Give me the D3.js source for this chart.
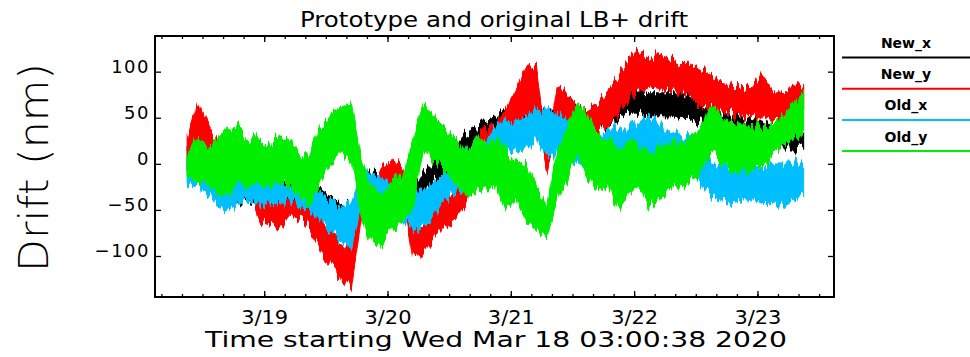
<!DOCTYPE html>
<html lang="en">
<head>
<meta charset="UTF-8">
<title>Prototype and original LB+ drift</title>
<script src="https://cdn.jsdelivr.net/npm/d3@7"></script>
<style>
    body { margin: 0; background: #fff; }
    svg text { font-family: "DejaVu Sans", sans-serif; fill: #000; }
</style>
</head>
<body>
<script>
    var sampleStart = new Date(2020, 2, 18, 9, 0);
    var sampleStepHours = 2;

    var newXHi = [19,5,0,-5,-15,-15,-15,-20,-20,-20,-20,-17,-20,-28,-35,-44,-46,-10,-10,-15,-20,-20,-21,-10,4,15,19,30,37,48,51,59,62,70,66,53,62,70,62,55,59,62,70,80,80,77,77,77,77,73,66,59,55,51,51,48,44,40,33,37,40];
    var newXLo = [-3,-20,-25,-30,-45,-40,-40,-42,-45,-45,-42,-50,-54,-56,-61,-62,-68,-40,-40,-45,-50,-50,-46,-35,-21,-10,-7,8,15,26,33,40,40,51,51,49,44,44,40,37,40,44,48,55,55,51,51,51,48,48,44,37,30,26,26,26,22,19,15,15,19];

    var newYHi = [26,66,44,20,5,-3,-7,-35,-35,-35,-39,-39,-46,-57,-75,-90,-90,-30,-30,-3,4,-3,-68,-68,-46,-35,-28,-21,20,40,40,59,80,102,106,10,84,77,59,59,66,80,95,113,124,117,117,113,109,109,102,95,91,84,84,84,98,77,77,87,84];
    var newYLo = [8,15,4,-10,-17,-20,-25,-61,-64,-72,-56,-58,-68,-90,-112,-126,-134,-55,-50,-32,-25,-32,-104,-97,-79,-68,-61,-46,-15,19,22,26,40,51,48,-5,44,40,30,30,37,40,55,70,80,84,80,80,77,73,62,59,55,55,51,51,51,48,48,59,55];

    var oldXHi = [0,-10,-10,-17,-21,-14,-10,-17,-21,-21,-21,-25,-21,-32,-39,-46,-43,-10,-10,-14,-25,-35,-25,-28,-21,-10,1,12,15,26,40,48,44,51,59,59,55,48,30,22,30,37,40,40,44,51,44,33,30,30,15,1,-3,-7,-3,1,-3,1,1,1,1];
    var oldXLo = [-20,-25,-32,-46,-50,-43,-39,-46,-43,-43,-39,-46,-50,-61,-75,-83,-90,-43,-39,-50,-55,-60,-75,-68,-57,-39,-32,-25,-17,-10,19,15,12,15,26,8,12,4,-3,-10,-3,4,1,1,4,8,4,-3,-7,-7,-21,-35,-39,-43,-39,-39,-43,-43,-46,-39,-32];

    var oldYHi = [12,33,22,30,37,39,26,26,22,30,26,12,12,40,55,62,65,0,-25,-35,-17,-10,26,66,51,40,30,12,26,26,26,15,0,-3,-25,-46,12,44,66,51,30,26,15,26,19,12,19,26,22,33,40,64,51,44,40,44,40,44,51,66,77];
    var oldYLo = [-10,-17,-20,-32,-35,-21,-25,-21,-25,-21,-25,-35,-46,-17,0,10,5,-60,-85,-86,-68,-64,-46,15,0,-3,-21,-35,-32,-25,-25,-50,-39,-61,-72,-79,-39,-17,15,-17,-28,-25,-50,-32,-25,-46,-39,-25,-25,-17,-10,15,-3,-7,-10,-7,-3,12,19,26,33];

    var seriesNames = ["New_x", "New_y", "Old_x", "Old_y"];
    var seriesColors = ["#000000", "#ff0000", "#00bfff", "#00ee00"];
    var seriesLo = [newXLo, newYLo, oldXLo, oldYLo];
    var seriesHi = [newXHi, newYHi, oldXHi, oldYHi];

    var yTickValues = [-100, -50, 0, 50, 100];
    var dayTicks = [new Date(2020, 2, 19), new Date(2020, 2, 20), new Date(2020, 2, 21), new Date(2020, 2, 22), new Date(2020, 2, 23)];

    var w = 970, h = 357;
    var plotL = 155, plotR = 834, plotT = 36, plotB = 297;

    var svg = d3.select("body").append("svg")
        .attr("width", w)
        .attr("height", h);

    // the traces are very noisy; a vertical-only displacement gives the bands their ragged edges
    var defs = svg.append("defs");
    seriesNames.forEach(function (name, k) {
        var f = defs.append("filter")
            .attr("id", "jitter" + k)
            .attr("x", "-2%").attr("y", "-30%")
            .attr("width", "104%").attr("height", "160%");
        f.append("feTurbulence")
            .attr("type", "fractalNoise")
            .attr("baseFrequency", "0.3 0.01")
            .attr("numOctaves", 3)
            .attr("seed", k * 7 + 3)
            .attr("result", "noise");
        f.append("feColorMatrix")
            .attr("in", "noise")
            .attr("type", "matrix")
            .attr("values", "0 0 0 0 0.5  0 1 0 0 0  0 0 0 0 0  0 0 0 0 1")
            .attr("result", "map");
        f.append("feDisplacementMap")
            .attr("in", "SourceGraphic")
            .attr("in2", "map")
            .attr("scale", 22)
            .attr("xChannelSelector", "R")
            .attr("yChannelSelector", "G");
    });

    var x = d3.scaleTime()
        .domain([new Date(2020, 2, 18, 2, 45), new Date(2020, 2, 23, 14, 54)])
        .range([plotL, plotR]);
    var y = d3.scaleLinear()
        .domain([-144.5, 138.7])
        .range([plotB, plotT]);

    var times = newXLo.map(function (d, i) {
        return d3.timeHour.offset(sampleStart, i * sampleStepHours);
    });

    // traces, plotted in legend order (Old_y ends up on top)
    var area = d3.area()
        .x(function (d) { return x(d.t); })
        .y0(function (d) { return y(d.lo); })
        .y1(function (d) { return y(d.hi); });

    seriesNames.forEach(function (name, k) {
        var rows = times.map(function (t, i) {
            return {t: t, lo: seriesLo[k][i], hi: seriesHi[k][i]};
        });
        svg.append("path")
            .datum(rows)
            .attr("d", area)
            .attr("fill", seriesColors[k])
            .attr("stroke", seriesColors[k])
            .attr("stroke-width", 1)
            .attr("filter", "url(#jitter" + k + ")");
    });

    // axes: ticks point inward, like the original
    var minorTicks = d3.timeHour.every(4).range(x.domain()[0], x.domain()[1]);

    function styleAxis(g) {
        g.select(".domain").remove();
        g.selectAll("line").attr("stroke", "#000").attr("stroke-width", 1.3);
    }

    svg.append("g").attr("transform", "translate(0," + plotB + ")")
        .call(d3.axisBottom(x).tickValues(minorTicks).tickSize(-3).tickFormat(""))
        .call(styleAxis);
    svg.append("g").attr("transform", "translate(0," + plotT + ")")
        .call(d3.axisTop(x).tickValues(minorTicks).tickSize(-3).tickFormat(""))
        .call(styleAxis);

    var xAxis = svg.append("g").attr("transform", "translate(0," + plotB + ")")
        .call(d3.axisBottom(x).tickValues(dayTicks).tickSize(-6)
            .tickFormat(function (d) { return (d.getMonth() + 1) + "/" + d.getDate(); }))
        .call(styleAxis);
    xAxis.selectAll("text")
        .attr("y", 27).attr("dy", null)
        .attr("font-size", "19px")
        .attr("textLength", 47)
        .attr("lengthAdjust", "spacingAndGlyphs");
    svg.append("g").attr("transform", "translate(0," + plotT + ")")
        .call(d3.axisTop(x).tickValues(dayTicks).tickSize(-6).tickFormat(""))
        .call(styleAxis);

    var yAxis = svg.append("g").attr("transform", "translate(" + plotL + ",0)")
        .call(d3.axisLeft(y).tickValues(yTickValues).tickSize(-6))
        .call(styleAxis);
    yAxis.selectAll("text")
        .attr("x", -5).attr("dy", "0.05em")
        .attr("font-size", "18px")
        .attr("letter-spacing", "1.5px");
    svg.append("g").attr("transform", "translate(" + plotR + ",0)")
        .call(d3.axisRight(y).tickValues(yTickValues).tickSize(-6).tickFormat(""))
        .call(styleAxis);

    svg.append("rect")
        .attr("x", plotL).attr("y", plotT)
        .attr("width", plotR - plotL).attr("height", plotB - plotT)
        .attr("fill", "none").attr("stroke", "#000").attr("stroke-width", 2);

    // titles
    svg.append("text")
        .attr("x", 300).attr("y", 27)
        .attr("font-size", "21px")
        .attr("textLength", 388).attr("lengthAdjust", "spacingAndGlyphs")
        .text("Prototype and original LB+ drift");

    svg.append("text")
        .attr("x", 205).attr("y", 347)
        .attr("font-size", "22px")
        .attr("textLength", 582).attr("lengthAdjust", "spacingAndGlyphs")
        .text("Time starting Wed Mar 18 03:00:38 2020");

    svg.append("text")
        .attr("transform", "translate(48,272) rotate(-90)")
        .attr("font-size", "41px")
        .attr("font-weight", 300)
        .attr("textLength", 209).attr("lengthAdjust", "spacingAndGlyphs")
        .text("Drift (nm)");

    // legend
    var legend = svg.selectAll("g.legend")
        .data(seriesNames)
        .enter()
        .append("g")
        .attr("class", "legend")
        .attr("transform", function (d, i) { return "translate(0," + (i * 31.2) + ")"; });
    legend.append("text")
        .attr("x", 906).attr("y", 48)
        .attr("text-anchor", "middle")
        .attr("font-size", "14px")
        .attr("font-weight", "bold")
        .text(function (d) { return d; });
    legend.append("line")
        .attr("x1", 842).attr("x2", 970)
        .attr("y1", 57.5).attr("y2", 57.5)
        .attr("stroke", function (d, i) { return seriesColors[i]; })
        .attr("stroke-width", 2);
</script>
</body>
</html>
